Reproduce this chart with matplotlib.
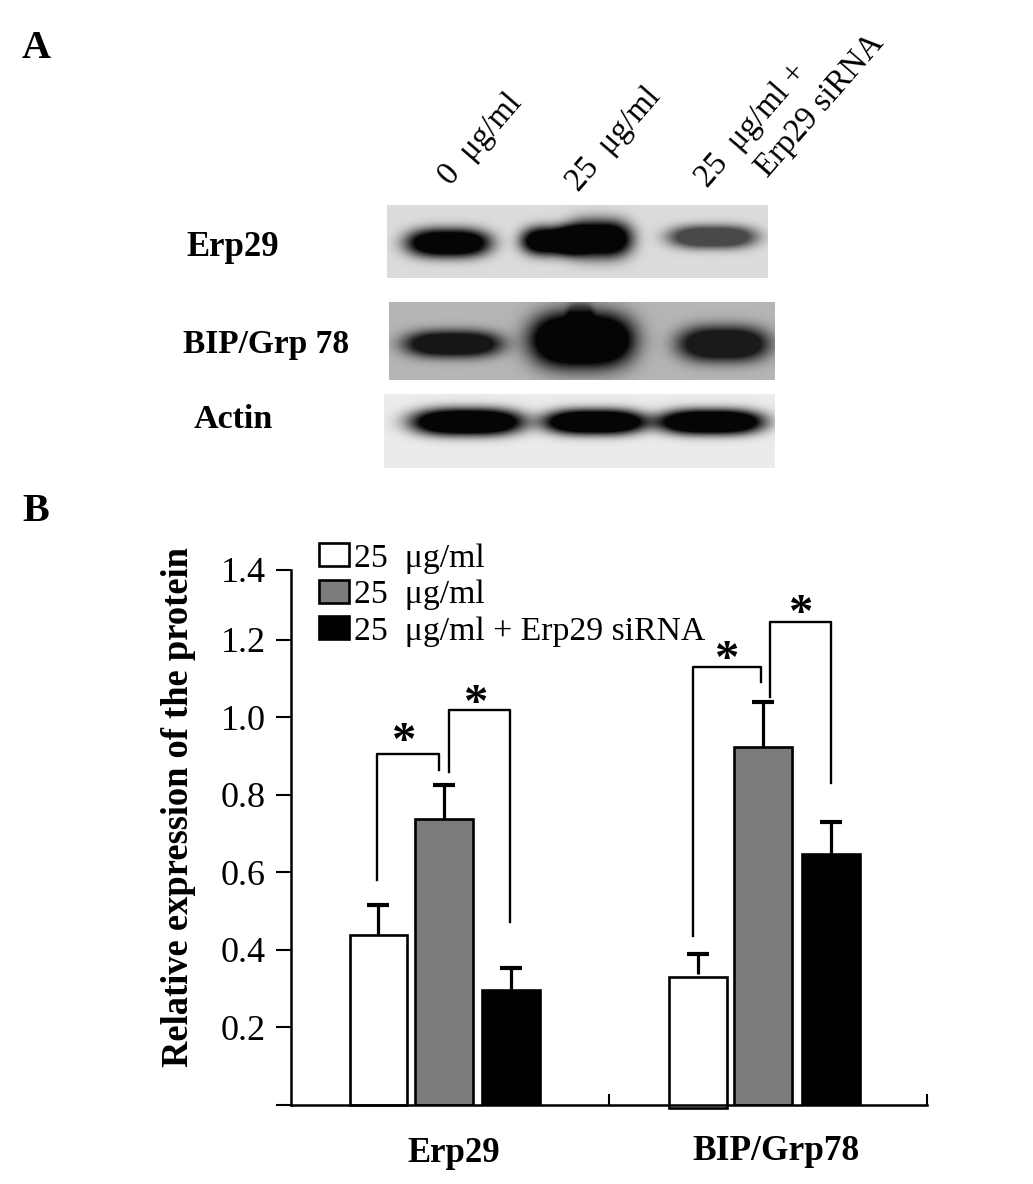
import matplotlib
matplotlib.use('Agg')
import matplotlib.pyplot as plt
from matplotlib.patches import Patch
import numpy as np

plt.rcParams['font.family'] = ['Liberation Serif', 'DejaVu Serif']

W, H = 1033, 1184

# bar chart values
groups = ['Erp29', 'BIP/Grp78']
series_labels = ['25  μg/ml', '25  μg/ml', '25  μg/ml + Erp29 siRNA']
white_vals = [0.438, 0.338]
gray_vals = [0.737, 0.923]
black_vals = [0.296, 0.647]
white_err = [0.077, 0.051]
gray_err = [0.088, 0.116]
black_err = [0.057, 0.082]
y_ticks = [0, 0.2, 0.4, 0.6, 0.8, 1.0, 1.2, 1.38]
y_tick_labels = ['', '0.2', '0.4', '0.6', '0.8', '1.0', '1.2', '1.4']

# significance brackets: x left, x right, top, foot left, foot right
brackets = [
    (0.270, 0.465, 0.905, 0.580, 0.863),
    (0.497, 0.689, 1.018, 0.858, 0.472),
    (1.264, 1.478, 1.131, 0.436, 1.090),
    (1.506, 1.698, 1.245, 1.052, 0.830),
]
star_x = [0.355, 0.582, 1.371, 1.604]
star_y = [0.935, 1.033, 1.146, 1.265]

# blot panels: bands as (x0, x1, y centre, half height, darkness)
erp_bands = [(403, 494, 243, 16, 1.0), (519, 585, 241, 16, 1.0), (562, 635, 239, 21, 1.0),
             (665, 760, 237, 13, 0.68)]
bip_bands = [(400, 506, 344, 15, 0.9), (526, 638, 340, 31, 1.2), (566, 594, 313, 12, 0.3),
             (674, 773, 344, 20, 0.88)]
actin_bands = [(407, 528, 422, 15, 1.1), (540, 650, 422, 14, 1.1), (654, 768, 422, 14, 1.1)]
lane_labels = ['0  μg/ml', '25  μg/ml', '25  μg/ml +', 'Erp29 siRNA']


def px_axes(x0, y0, x1, y1):
    # axes from pixel box, y counted from the top
    return fig.add_axes([x0 / W, 1 - y1 / H, (x1 - x0) / W, (y1 - y0) / H])


def draw_blot(x0, y0, x1, y1, bg, bands):
    ax = px_axes(x0, y0, x1, y1)
    xx, yy = np.meshgrid(np.arange(x0, x1) + 0.5, np.arange(y0, y1) + 0.5)
    dark = np.zeros_like(xx)
    for bx0, bx1, cy, hh, d in bands:
        cx = (bx0 + bx1) / 2
        hw = (bx1 - bx0) / 2
        r = np.abs((xx - cx) / hw) ** 3 + ((yy - cy) / hh) ** 2
        dark += d * np.clip(1.5 * np.exp(-1.3 * r ** 1.3), 0, 1)
    img = bg * (1 - np.clip(dark, 0, 1)) + 0.02
    ax.imshow(img, cmap='gray', vmin=0, vmax=1, aspect='auto', interpolation='bilinear')
    ax.axis('off')


fig = plt.figure(figsize=(W / 100, H / 100), dpi=100)

draw_blot(387, 205, 768, 278, 0.84, erp_bands)
draw_blot(389, 302, 775, 380, 0.69, bip_bands)
draw_blot(384, 394, 775, 468, 0.90, actin_bands)

# panel letters and blot labels
fig.text(22 / W, 1 - 58 / H, 'A', fontsize=29, fontweight='bold')
fig.text(22 / W, 1 - 521 / H, 'B', fontsize=29, fontweight='bold')
fig.text(186 / W, 1 - 256 / H, 'Erp29', fontsize=25, fontweight='bold')
fig.text(183 / W, 1 - 353 / H, 'BIP/Grp 78', fontsize=24, fontweight='bold')
fig.text(194 / W, 1 - 428 / H, 'Actin', fontsize=24.5, fontweight='bold')

lane_x = [451, 579, 708, 768]
lane_y = [186, 192, 188, 178]
for lab, lx, ly in zip(lane_labels, lane_x, lane_y):
    fig.text(lx / W, 1 - ly / H, lab, fontsize=23.5, rotation=49,
             rotation_mode='anchor', ha='left', va='baseline')

# bar chart
ax = px_axes(291, 570, 927, 1105)
ax.set_xlim(0, 2)
ax.set_ylim(0, 1.379)

centers = np.array([0.48, 1.484])
width = 0.182
ax.bar(centers - 0.205, white_vals, width, bottom=[0, -0.008], color='white', edgecolor='black',
       linewidth=1.9, clip_on=False, zorder=2)
ax.bar(centers, gray_vals, width, color='#7b7b7b', edgecolor='black', linewidth=1.9, zorder=2)
ax.bar(centers + 0.213, black_vals, width, color='black', edgecolor='black', linewidth=1.9, zorder=2)

for off, vals, errs in [(-0.205, white_vals, white_err), (0, gray_vals, gray_err), (0.213, black_vals, black_err)]:
    eb = ax.errorbar(centers + off, vals, yerr=[np.zeros(2), errs], fmt='none', ecolor='black',
                     elinewidth=2.3, capsize=8, capthick=3, zorder=1)
    eb[1][0].set_visible(False)  # upper caps only

for xl, xr, top, fl, fr in brackets:
    ax.plot([xl, xl, xr, xr], [fl, top, top, fr], color='black', lw=1.7, clip_on=False)
for sx, sy in zip(star_x, star_y):
    ax.text(sx, sy, '*', fontsize=35, fontweight='bold', ha='center', va='center')

ax.set_yticks(y_ticks)
ax.set_yticklabels(y_tick_labels, fontsize=26)
ax.tick_params(axis='y', length=11, width=1.5, pad=7)
ax.set_xticks([1, 2])
ax.set_xticklabels(['', ''])
ax.tick_params(axis='x', direction='in', length=8, width=1.5)
for s in ['top', 'right']:
    ax.spines[s].set_visible(False)
for s in ['left', 'bottom']:
    ax.spines[s].set_linewidth(1.8)

ax.set_ylabel('Relative expression of the protein', fontsize=26.3, fontweight='bold')
ax.yaxis.set_label_coords((196 - 291) / 636, (1105 - 807) / 535)

fig.text(454 / W, 1 - 1162 / H, groups[0], fontsize=25, fontweight='bold', ha='center')
fig.text(776 / W, 1 - 1160 / H, groups[1], fontsize=25.5, fontweight='bold', ha='center')

handles = [Patch(facecolor='white', edgecolor='black', linewidth=1.9),
           Patch(facecolor='#7b7b7b', edgecolor='black', linewidth=1.9),
           Patch(facecolor='black', edgecolor='black', linewidth=1.9)]
ax.legend(handles, series_labels, loc='upper left', bbox_to_anchor=(319 / W, 1 - 543 / H),
          bbox_transform=fig.transFigure, frameon=False, fontsize=24.3, handlelength=0.88,
          handleheight=0.67, handletextpad=0.17, labelspacing=0.18, borderpad=0, borderaxespad=0)

fig.savefig('out.png', dpi=100)
